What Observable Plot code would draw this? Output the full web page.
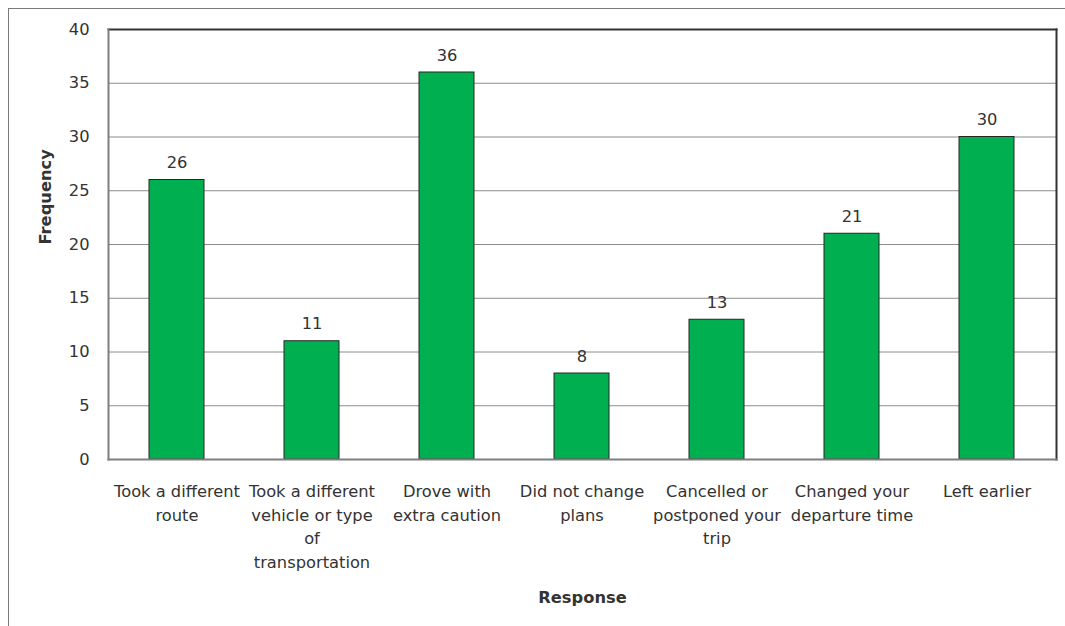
<!DOCTYPE html>
<html>
<head>
<meta charset="utf-8">
<script src="https://cdn.jsdelivr.net/npm/d3@7"></script>
<script src="https://cdn.jsdelivr.net/npm/@observablehq/plot@0.6"></script>
<style>
  html, body { margin: 0; padding: 0; background: #fff; overflow: hidden; }
  #wrap { position: relative; width: 1065px; height: 626px; }
  #border { position: absolute; left: 8px; top: 8px; width: 1200px; height: 800px; border: 1px solid #7a7a7a; box-sizing: border-box; pointer-events: none; }
  #chart { position: absolute; left: 0; top: 0; }
</style>
</head>
<body>
<div id="wrap"><div id="border"></div><div id="chart"></div></div>
<script>
const categories = [
  "Took a different\nroute",
  "Took a different\nvehicle or type\nof\ntransportation",
  "Drove with\nextra caution",
  "Did not change\nplans",
  "Cancelled or\npostponed your\ntrip",
  "Changed your\ndeparture time",
  "Left earlier"
];
const frequencies = [26, 11, 36, 8, 13, 21, 30];
const yTicks = [0, 5, 10, 15, 20, 25, 30, 35, 40];
const gridTicks = [5, 10, 15, 20, 25, 30, 35];
const yTitle = "Frequency";
const xTitle = "Response";

const data = categories.map((c, i) => ({category: c, value: frequencies[i]}));
const font = "DejaVu Sans, Verdana, sans-serif";
const fs = 16.3;

const chart = Plot.plot({
  width: 1065,
  height: 626,
  marginLeft: 108,
  marginRight: 9,
  marginTop: 29,
  marginBottom: 167,
  style: {fontFamily: font, fontSize: fs + "px", color: "#333", background: "transparent"},
  x: {domain: categories, paddingInner: 0.59, paddingOuter: 0.295},
  y: {domain: [0, 40]},
  marks: [
    Plot.gridY(gridTicks, {stroke: "#8c8c8c", strokeOpacity: 1, strokeWidth: 1}),
    Plot.barY(data, {x: "category", y: "value", fill: "#00B050", stroke: "#262626", strokeWidth: 1}),
    Plot.text(data, {x: "category", y: "value", text: d => String(d.value), dy: -17, fill: "#333", fontSize: fs}),
    Plot.frame({anchor: "top", stroke: "#333", strokeWidth: 2}),
    Plot.frame({anchor: "right", stroke: "#333", strokeWidth: 2}),
    Plot.frame({anchor: "left", stroke: "#7f7f7f", strokeWidth: 2}),
    Plot.frame({anchor: "bottom", stroke: "#7f7f7f", strokeWidth: 2}),
    Plot.axisY(yTicks, {tickSize: 0, tickPadding: 19, fontSize: fs, fill: "#333", label: null}),
    Plot.axisX({tickSize: 0, tickPadding: 21, fontSize: fs, fill: "#333", lineHeight: 1.44, label: null}),
    Plot.text([yTitle], {frameAnchor: "left", dx: -63, rotate: -90, fontWeight: "bold", fontSize: fs, fill: "#333"}),
    Plot.text([xTitle], {frameAnchor: "bottom", dy: 143, fontWeight: "bold", fontSize: fs, fill: "#333"})
  ]
});
document.getElementById("chart").appendChild(chart);
</script>
</body>
</html>
